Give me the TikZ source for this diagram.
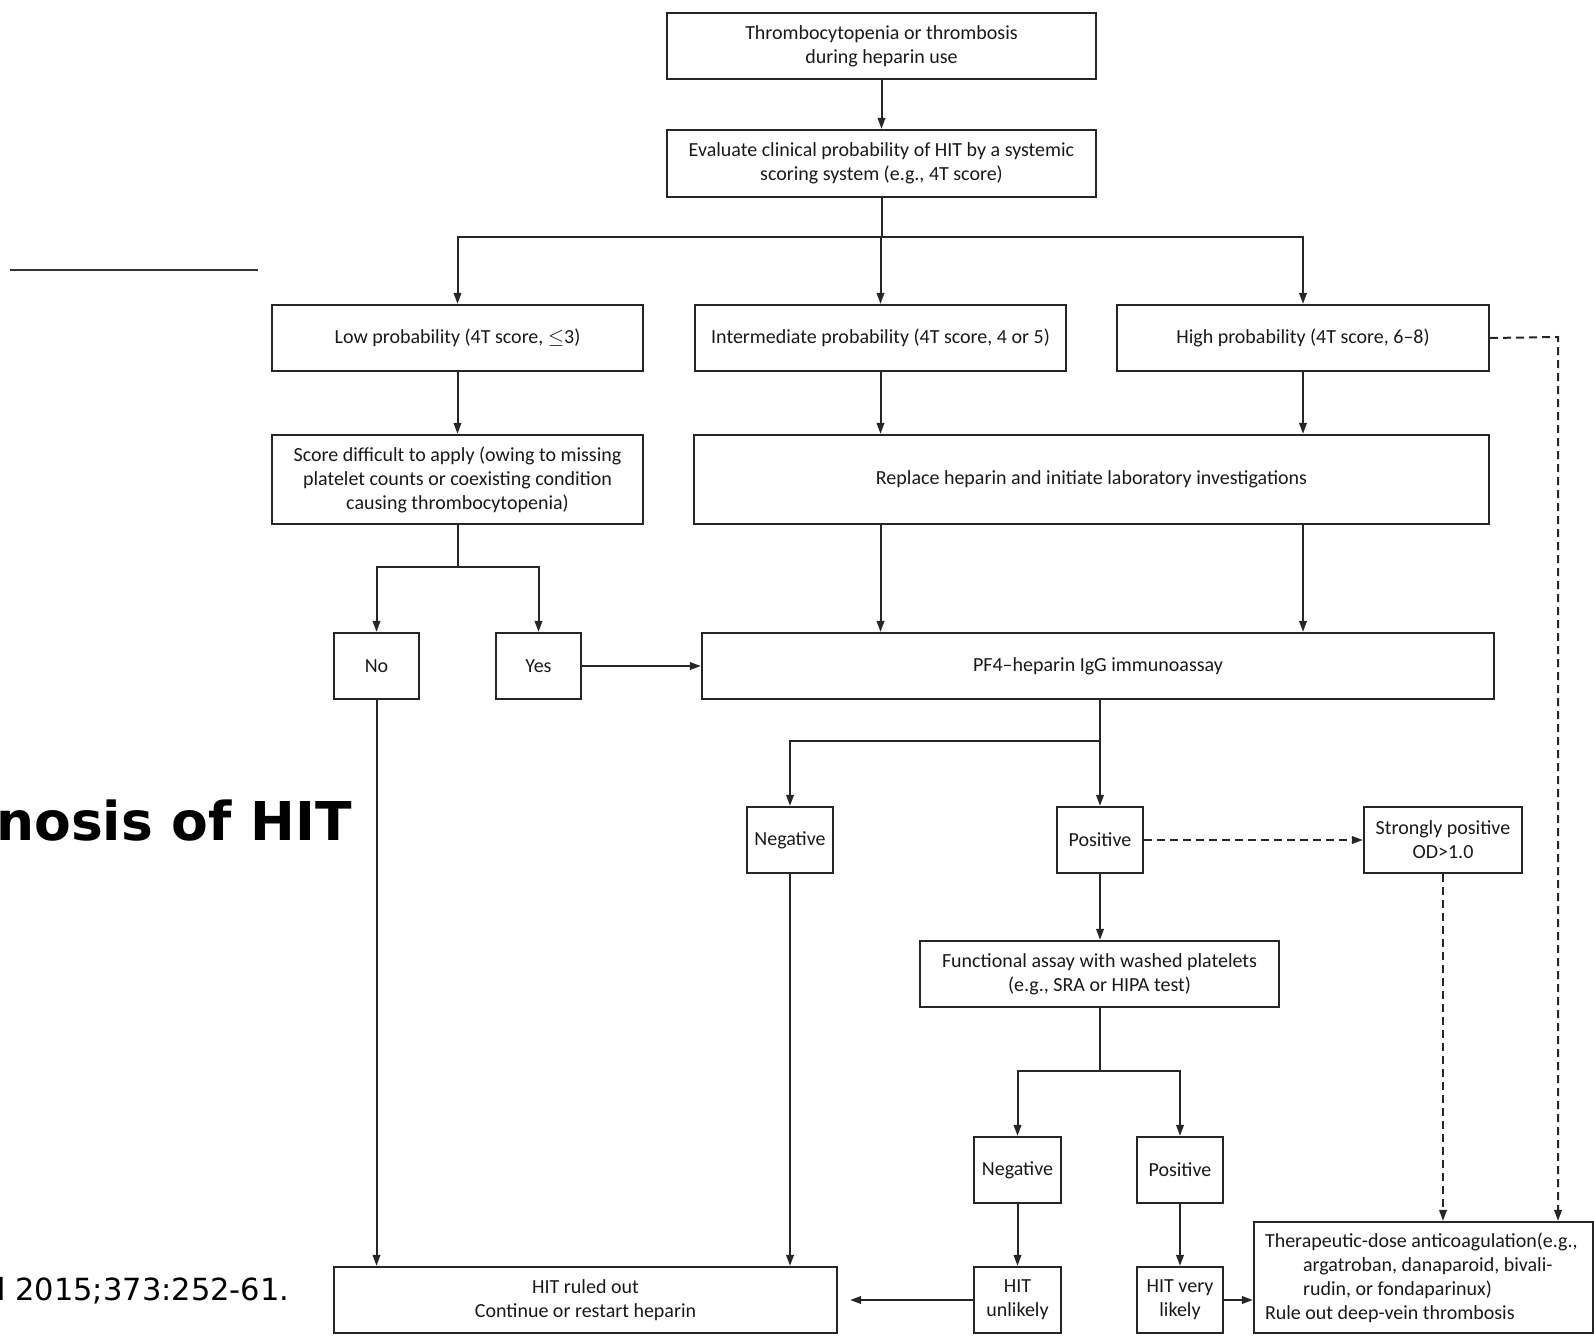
\documentclass[tikz,border=0pt]{standalone}
\usepackage{fontspec}
\setmainfont{Carlito}
\newfontfamily\vfont{DejaVu Sans}
\usetikzlibrary{arrows.meta}
\newcommand\hbx[6]{\node[box, minimum width={#4-#2}, minimum height={#5-#3}] (#1) at ({(#2+#4)/2},{(#3+#5)/2}) {#6};}
\begin{document}
\begin{tikzpicture}[x=1pt,y=-1pt,
  box/.style={draw=black!85, line width=2.2pt, inner sep=0pt, align=center, font=\fontsize{20}{24}\selectfont, text=black!90},
  conn/.style={draw=black!85, line width=2pt},
  arr/.style={conn, -{Triangle[length=11pt,width=7.5pt]}},
  dsh/.style={arr, dash pattern=on 8pt off 5pt}]
\useasboundingbox (0,0) rectangle (1594,1341);

% slide remnants
\draw[line width=2pt, black!80] (10,270) -- (258,270);
\node[anchor=base west, inner sep=0pt, font=\vfont\bfseries\fontsize{53.5}{60}\selectfont] (title) at (-4,840) {nosis of HIT};
\node[anchor=base west, inner sep=0pt, font=\vfont\fontsize{30.5}{36}\selectfont] (cite) at (-3,1300) {l 2015;373:252-61.};

% boxes
\hbx{top}{667}{13}{1096}{79}{Thrombocytopenia or thrombosis\\during heparin use}
\hbx{eval}{667}{130}{1096}{197}{Evaluate clinical probability of HIT by a systemic\\scoring system (e.g., 4T score)}
\hbx{low}{272}{305}{643}{371}{Low probability (4T score, $\leq$3)}
\hbx{inter}{695}{305}{1066}{371}{Intermediate probability (4T score, 4 or 5)}
\hbx{high}{1117}{305}{1489}{371}{High probability (4T score, 6–8)}
\hbx{score}{272}{435}{643}{524}{Score difficult to apply (owing to missing\\platelet counts or coexisting condition\\causing thrombocytopenia)}
\hbx{replace}{694}{435}{1489}{524}{Replace heparin and initiate laboratory investigations}
\hbx{no}{334}{633}{419}{699}{No}
\hbx{yes}{496}{633}{581}{699}{Yes}
\hbx{pf4}{702}{633}{1494}{699}{PF4–heparin IgG immunoassay}
\hbx{neg}{747}{807}{833}{873}{Negative}
\hbx{pos}{1057}{807}{1143}{873}{Positive}
\hbx{strong}{1364}{807}{1522}{873}{Strongly positive\\OD>1.0}
\hbx{func}{920}{941}{1279}{1007}{Functional assay with washed platelets\\(e.g., SRA or HIPA test)}
\hbx{neg2}{974}{1137}{1061}{1203}{Negative}
\hbx{pos2}{1137}{1137}{1223}{1203}{Positive}
\hbx{unl}{974}{1267}{1061}{1333}{HIT\\unlikely}
\hbx{vlik}{1137}{1267}{1223}{1333}{HIT very\\likely}
\hbx{ruled}{334}{1267}{837}{1333}{HIT ruled out\\Continue or restart heparin}
\node[box, align=flush left, text width=317pt, inner xsep=11pt, minimum height=111pt] (ther) at (1423.5,1277.5)
  {Therapeutic-dose anticoagulation(e.g.,\\\hspace*{38pt}argatroban, danaparoid, bivali-\\\hspace*{38pt}rudin, or fondaparinux)\\Rule out deep-vein thrombosis};

% connectors
\draw[arr] (top) -- (eval);
\coordinate (j1) at (881.5,237);
\draw[conn] (eval.south) -- (j1);
\draw[arr] (j1) -| (low.north);
\draw[arr] (j1) -| (high.north);
\draw[arr] (inter.north |- j1) -- (inter.north);
\draw[arr] (low) -- (score);
\draw[arr] (inter.south) -- (inter.south |- replace.north);
\draw[arr] (high.south) -- (high.south |- replace.north);
\coordinate (j2) at (457.5,567);
\draw[conn] (score.south) -- (j2);
\draw[arr] (j2) -| (no.north);
\draw[arr] (j2) -| (yes.north);
\draw[arr] (yes.east) -- (yes.east -| pf4.west);
\draw[arr] (inter.south |- replace.south) -- (inter.south |- pf4.north);
\draw[arr] (high.south |- replace.south) -- (high.south |- pf4.north);
\coordinate (j3) at (1100,741);
\draw[conn] (pos.north |- pf4.south) -- (j3);
\draw[arr] (j3) -- (pos.north);
\draw[arr] (j3) -| (neg.north);
\draw[dsh] (pos.east) -- (pos.east -| strong.west);
\draw[arr] (pos.south) -- (pos.south |- func.north);
\coordinate (j4) at (1099.5,1071);
\draw[conn] (func.south) -- (j4);
\draw[arr] (j4) -| (neg2.north);
\draw[arr] (j4) -| (pos2.north);
\draw[arr] (neg2) -- (unl);
\draw[arr] (pos2) -- (vlik);
\draw[arr] (unl.west) -- ([xshift=12pt]ruled.east |- unl.west);
\draw[arr] (vlik.east) -- (vlik.east -| ther.west);
\draw[arr] (no.south) -- (no.south |- ruled.north);
\draw[arr] (neg.south) -- (neg.south |- ruled.north);
\coordinate (d1) at (1558,337);
\draw[dsh] (high.east) -- (d1) -- (d1 |- ther.north);
\draw[dsh] (strong.south) -- (strong.south |- ther.north);
\end{tikzpicture}
\end{document}
